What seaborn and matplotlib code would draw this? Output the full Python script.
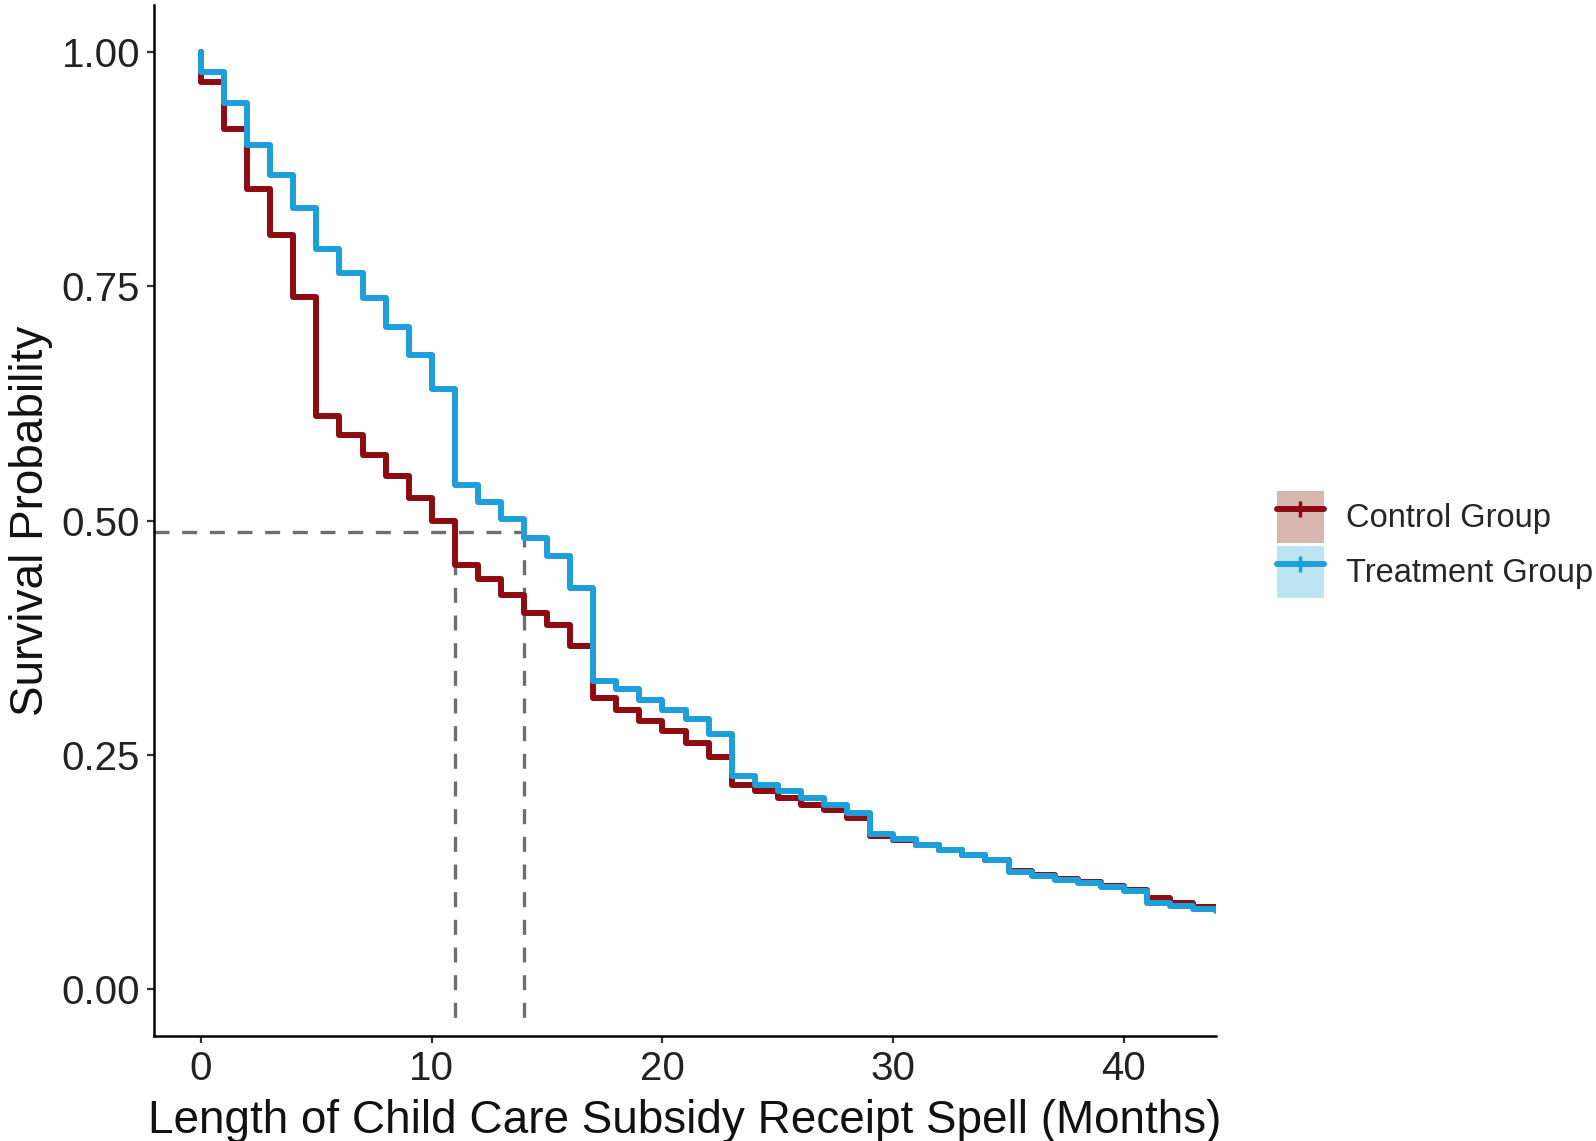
import numpy as np
import pandas as pd
import matplotlib
matplotlib.use("Agg")
import matplotlib.pyplot as plt
from matplotlib.patches import Patch
from matplotlib.lines import Line2D
import seaborn as sns

# Kaplan-Meier step values (one value per month, after the drop at that month)
months = [0, 0] + list(range(1, 45))
control_surv = [1.000, 0.968, 0.918, 0.854, 0.805, 0.739, 0.611, 0.591, 0.570, 0.547, 0.524,
                0.499, 0.453, 0.438, 0.421, 0.401, 0.388, 0.366, 0.311, 0.298, 0.286,
                0.275, 0.263, 0.248, 0.218, 0.211, 0.204, 0.197, 0.191, 0.183, 0.163,
                0.159, 0.154, 0.149, 0.143, 0.138, 0.126, 0.122, 0.118, 0.114, 0.110,
                0.106, 0.097, 0.092, 0.088, 0.087]
treatment_surv = [1.000, 0.979, 0.945, 0.901, 0.869, 0.833, 0.790, 0.764, 0.737, 0.707, 0.677,
                  0.640, 0.538, 0.520, 0.502, 0.481, 0.462, 0.428, 0.329, 0.320, 0.309,
                  0.298, 0.288, 0.272, 0.227, 0.218, 0.211, 0.204, 0.197, 0.188, 0.166,
                  0.160, 0.154, 0.149, 0.143, 0.138, 0.125, 0.121, 0.117, 0.113, 0.109,
                  0.105, 0.092, 0.089, 0.085, 0.083]
groups = ["Control Group", "Treatment Group"]
group_colors = ["#8E0B10", "#1C9FDB"]
key_fills = ["#d6b6ae", "#bde5f3"]

median_level = 0.4875
median_times = [11, 14]

df = pd.DataFrame({
    "Months": months * 2,
    "Survival": control_surv + treatment_surv,
    "Group": [groups[0]] * len(months) + [groups[1]] * len(months),
})

sns.set_theme(style="ticks")
plt.rcParams["font.family"] = ["Liberation Sans", "DejaVu Sans"]

fig = plt.figure(figsize=(15.96, 11.41), dpi=100)
ax = fig.add_axes([0.0965, 0.092, 0.6655, 0.9036])

sns.lineplot(data=df, x="Months", y="Survival", hue="Group",
             palette=dict(zip(groups, group_colors)), estimator=None, sort=False,
             drawstyle="steps-post", linewidth=4.3, legend=False, ax=ax)

# median survival guide lines
ax.plot([-2.04, max(median_times)], [median_level, median_level],
        color="#6e6e6e", linewidth=2.4, dashes=(4.5, 3.8), zorder=1)
for t in median_times:
    ax.plot([t, t], [median_level, -0.04], color="#6e6e6e",
            linewidth=2.4, dashes=(4.5, 3.8), zorder=1)

ax.set_xlim(-2.04, 44.0)
ax.set_ylim(-0.05, 1.05)
ax.set_xticks([0, 10, 20, 30, 40])
ax.set_yticks([0, 0.25, 0.5, 0.75, 1.0])
ax.set_yticklabels(["0.00", "0.25", "0.50", "0.75", "1.00"])
ax.tick_params(axis="both", labelsize=29, length=5, width=1.6,
               color="#333333", labelcolor="#222222", pad=5)
for side in ["top", "right"]:
    ax.spines[side].set_visible(False)
for side in ["left", "bottom"]:
    ax.spines[side].set_linewidth(1.8)
    ax.spines[side].set_color("black")

ax.set_xlabel("Length of Child Care Subsidy Receipt Spell (Months)", fontsize=33,
              color="#111111", labelpad=8)
ax.set_ylabel("Survival Probability", fontsize=33, color="#111111", labelpad=6)

handles = []
for col, fill in zip(group_colors, key_fills):
    handles.append((Patch(facecolor=fill, edgecolor="none"),
                    Line2D([], [], color=col, linewidth=4.3, marker="+",
                           markersize=12, markeredgewidth=2.5)))
fig.legend(handles, groups, loc="center left", bbox_to_anchor=(0.800, 0.523),
           frameon=False, fontsize=23.5, handlelength=1.45, handleheight=2.08,
           labelspacing=0.1, handletextpad=0.67, borderpad=0, borderaxespad=0)

fig.savefig("out.png", dpi=100)
